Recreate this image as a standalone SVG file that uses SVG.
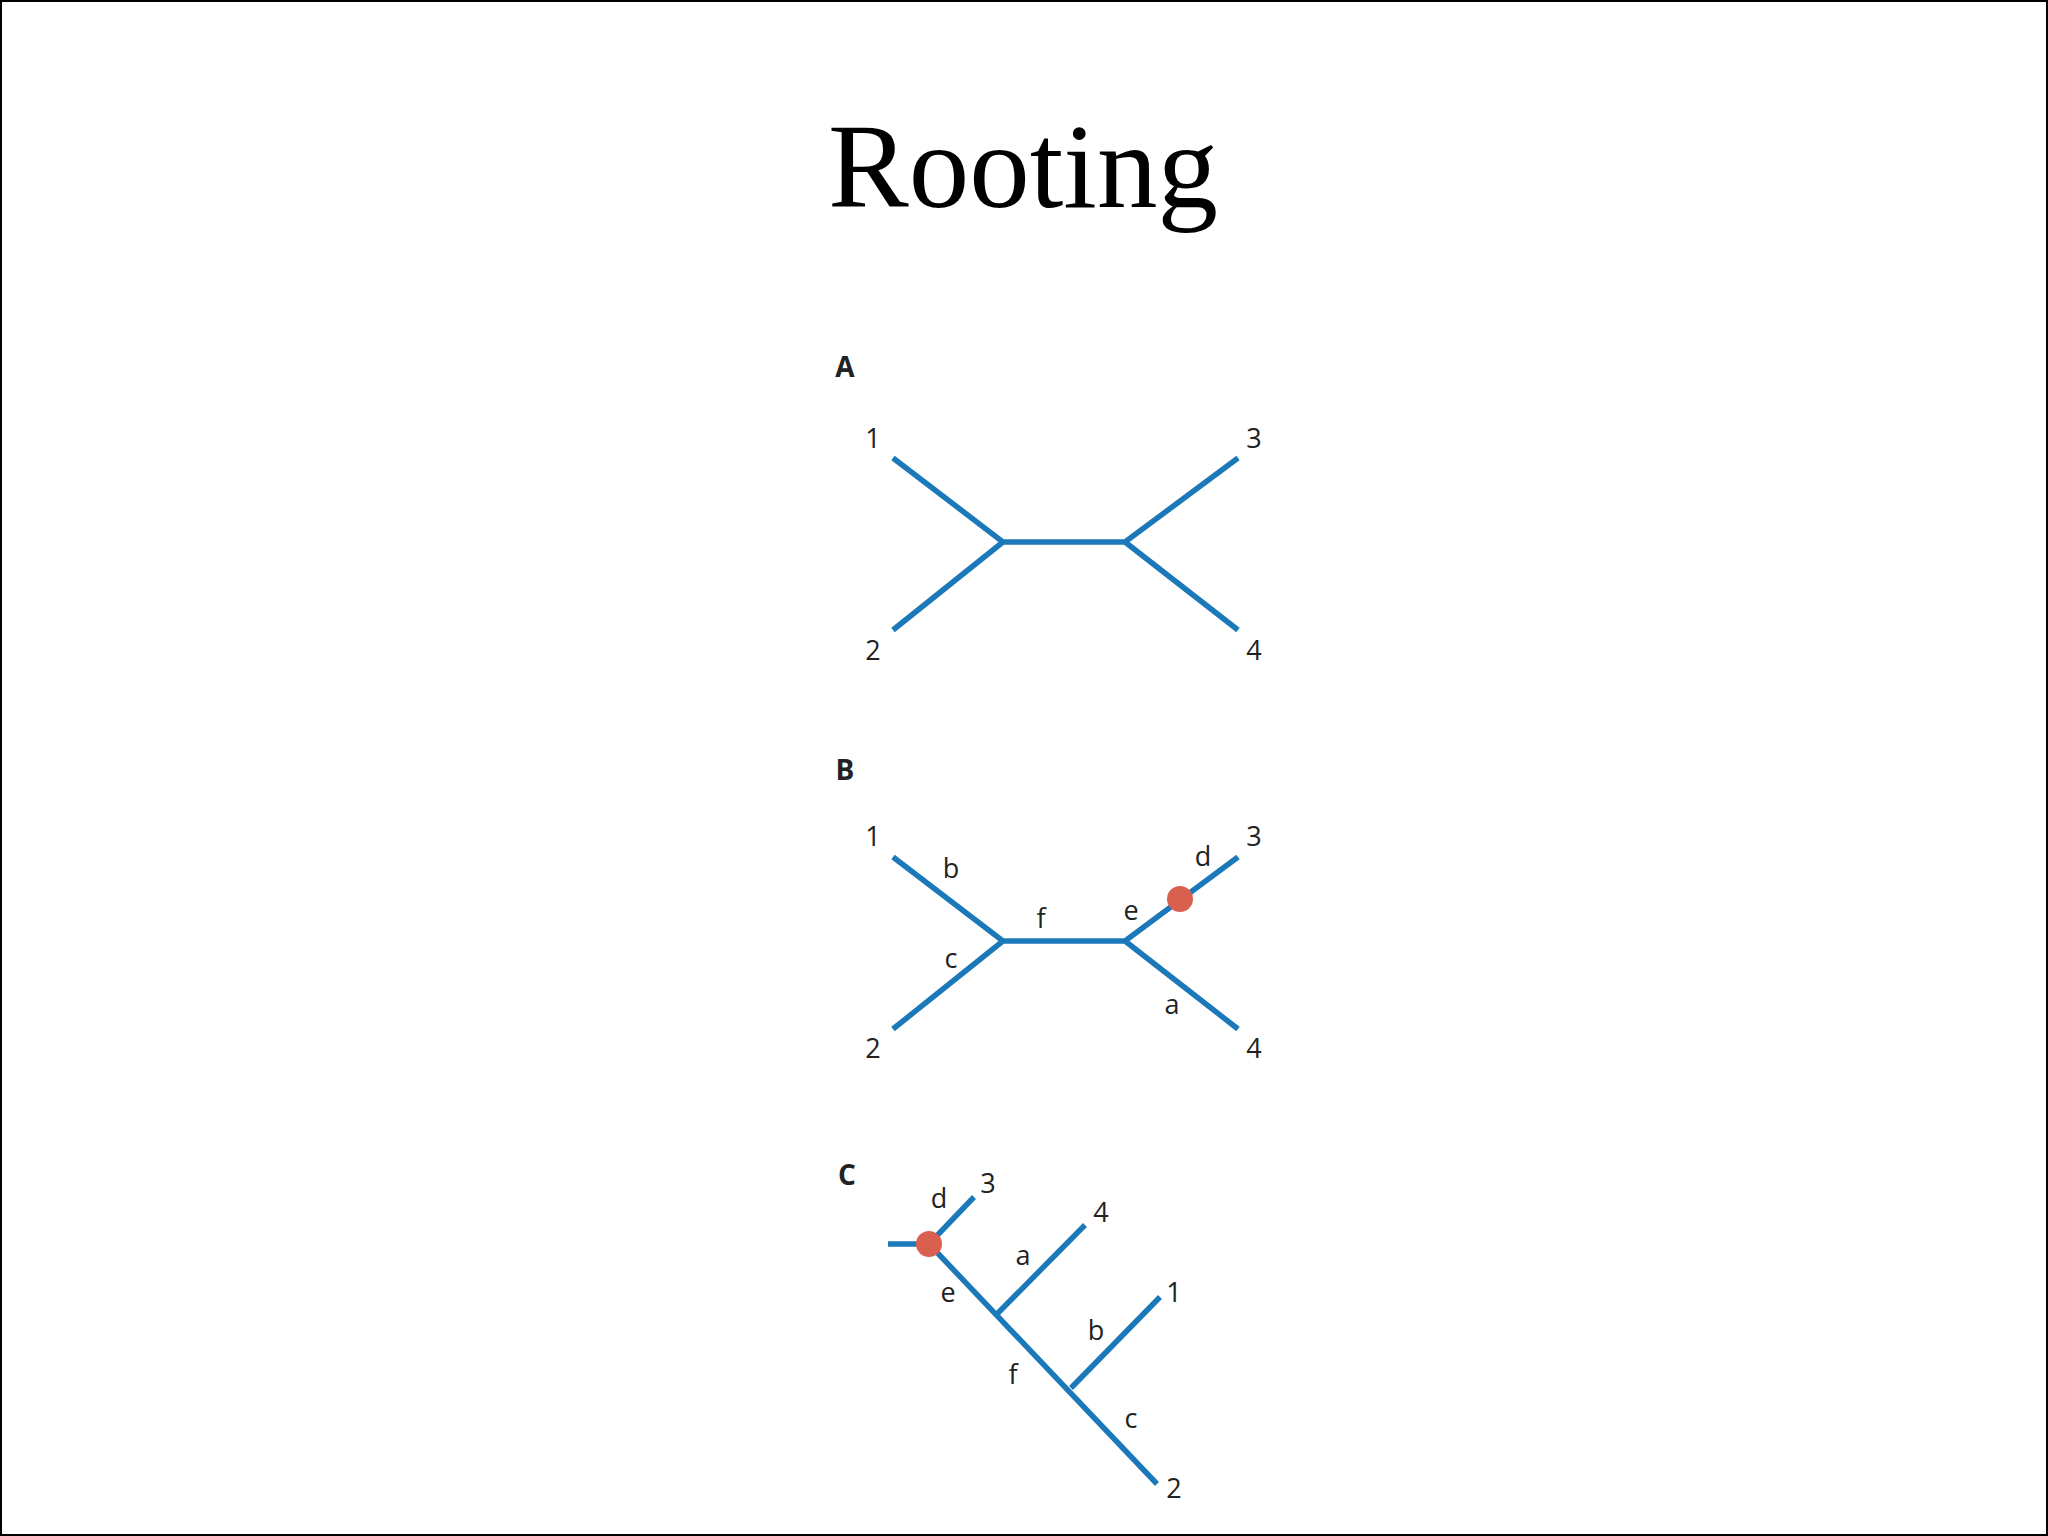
<svg xmlns="http://www.w3.org/2000/svg" width="2048" height="1536" viewBox="0 0 2048 1536">
<style>
.e{stroke:#1b79b9;stroke-width:5.5;fill:none;stroke-linecap:butt}
.t{font-family:"Open Sans","Liberation Sans",sans-serif;font-size:27px;fill:#222;text-anchor:middle}
.h{font-family:"Open Sans","Liberation Sans",sans-serif;font-size:28px;font-weight:bold;fill:#222;text-anchor:middle}
.r{fill:#d9604f}
</style>
<rect x="1" y="1" width="2046" height="1534" fill="#fff" stroke="#000" stroke-width="2"/>
<text x="1023" y="207" font-family="Liberation Serif,serif" font-size="121" text-anchor="middle">Rooting</text>
<g id="connectors">
<path class="e" d="M893 458L1003 542L893 630M1003 542H1125L1238 458M1125 542L1238 630"/>
<path class="e" d="M893 857L1003 941L893 1029M1003 941H1125L1238 857M1125 941L1238 1029"/>
<path class="e" d="M888 1244H929L974 1197M929 1244L1157 1484M998 1313L1085 1225M1071 1388L1160 1297"/>
</g>
<g id="A"><text class="h" x="845" y="377">A</text>
<text class="t" x="873" y="448">1</text><text class="t" x="1254" y="448">3</text>
<text class="t" x="873" y="660">2</text><text class="t" x="1254" y="660">4</text></g>
<g id="B"><text class="h" x="845" y="780">B</text>
<text class="t" x="873" y="846">1</text><text class="t" x="1254" y="846">3</text>
<text class="t" x="873" y="1058">2</text><text class="t" x="1254" y="1058">4</text>
<text class="t" x="951" y="878">b</text><text class="t" x="951" y="968">c</text>
<text class="t" x="1041" y="928">f</text><text class="t" x="1131" y="920">e</text>
<text class="t" x="1203" y="866">d</text><text class="t" x="1172" y="1014">a</text>
<circle class="r" cx="1180" cy="899" r="13"/></g>
<g id="C"><text class="h" x="847" y="1185">C</text>
<circle class="r" cx="929" cy="1244" r="13"/>
<text class="t" x="988" y="1193">3</text><text class="t" x="939" y="1208">d</text>
<text class="t" x="1101" y="1222">4</text><text class="t" x="1023" y="1265">a</text>
<text class="t" x="948" y="1302">e</text><text class="t" x="1174" y="1302">1</text>
<text class="t" x="1096" y="1340">b</text><text class="t" x="1013" y="1384">f</text>
<text class="t" x="1131" y="1428">c</text><text class="t" x="1174" y="1498">2</text></g>
</svg>
